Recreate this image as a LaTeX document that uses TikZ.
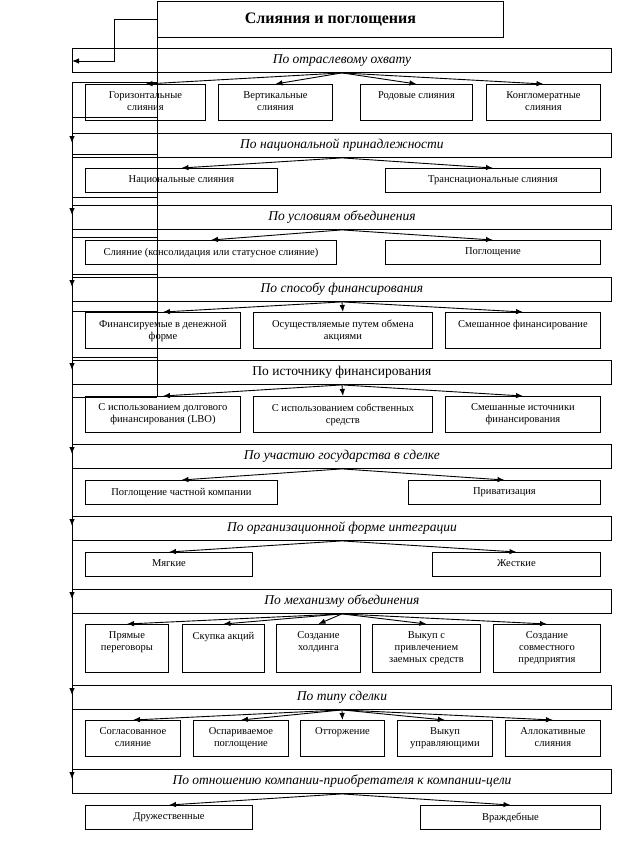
\documentclass[tikz,border=0pt]{standalone}
\usepackage{fontspec}
\setmainfont{Liberation Serif}
\usetikzlibrary{arrows.meta}

\tikzset{
  box/.style={draw, rectangle, inner sep=0pt, anchor=north west},
  cat/.style={box, minimum width=539pt, minimum height=24pt, font=\fontsize{13.5}{15}\selectfont\itshape},
  sub/.style={box, minimum height=#1},
  txt/.style={anchor=north, align=center, inner sep=0pt, yshift=-7.5pt, font=\fontsize{10.5}{12}\selectfont},
  arr/.style={-{Latex[length=7pt,width=5.5pt]}},
}

\begin{document}
\begin{tikzpicture}[x=1pt, y=-1pt, line width=0.9pt]
  \useasboundingbox (0,0) rectangle (637,855);

  % заголовок
  \node[box, minimum width=346pt, minimum height=36pt, font=\fontsize{16}{18}\selectfont\bfseries] (title) at (157,1) {Слияния и поглощения};

  % признаки классификации
  \node[cat] (c1) at (72,48) {По отраслевому охвату};
  \node[cat] (c2) at (72,133) {По национальной принадлежности};
  \node[cat] (c3) at (72,205) {По условиям объединения};
  \node[cat] (c4) at (72,277) {По способу финансирования};
  \node[cat, font=\fontsize{13.5}{15}\selectfont] (c5) at (72,360) {По источнику финансирования};
  \node[cat] (c6) at (72,444) {По участию государства в сделке};
  \node[cat] (c7) at (72,516) {По организационной форме интеграции};
  \node[cat] (c8) at (72,589) {По механизму объединения};
  \node[cat] (c9) at (72,685) {По типу сделки};
  \node[cat] (c10) at (72,769) {По отношению компании-приобретателя к компании-цели};

  % виды
  \node[sub=36pt, minimum width=120pt, label={[txt]north:{Горизонтальные\\слияния}}] (s11) at (85,84) {};
  \node[sub=36pt, minimum width=114pt, label={[txt]north:{Вертикальные\\слияния}}] (s12) at (218,84) {};
  \node[sub=36pt, minimum width=112pt, label={[txt]north:{Родовые слияния}}] (s13) at (360,84) {};
  \node[sub=36pt, minimum width=114pt, label={[txt]north:{Конгломератные\\слияния}}] (s14) at (486,84) {};

  \node[sub=24pt, minimum width=192pt, label={[txt]north:{Национальные слияния}}] (s21) at (85,168) {};
  \node[sub=24pt, minimum width=215pt, label={[txt]north:{Транснациональные слияния}}] (s22) at (385,168) {};

  \node[sub=24pt, minimum width=251pt, label={[txt]north:{Слияние (консолидация или статусное слияние)}}] (s31) at (85,240) {};
  \node[sub=24pt, minimum width=215pt, label={[txt]north:{Поглощение}}] (s32) at (385,240) {};

  \node[sub=36pt, minimum width=155pt, label={[txt]north:{Финансируемые в денежной\\форме}}] (s41) at (85,312) {};
  \node[sub=36pt, minimum width=179pt, label={[txt]north:{Осуществляемые путем обмена\\акциями}}] (s42) at (253,312) {};
  \node[sub=36pt, minimum width=155pt, label={[txt]north:{Смешанное финансирование}}] (s43) at (445,312) {};

  \node[sub=36pt, minimum width=155pt, label={[txt]north:{С использованием долгового\\финансирования (LBO)}}] (s51) at (85,396) {};
  \node[sub=36pt, minimum width=179pt, label={[txt]north:{С использованием собственных\\средств}}] (s52) at (253,396) {};
  \node[sub=36pt, minimum width=155pt, label={[txt]north:{Смешанные источники\\финансирования}}] (s53) at (445,396) {};

  \node[sub=24pt, minimum width=192pt, label={[txt]north:{Поглощение частной компании}}] (s61) at (85,480) {};
  \node[sub=24pt, minimum width=192pt, label={[txt]north:{Приватизация}}] (s62) at (408,480) {};

  \node[sub=24pt, minimum width=167pt, label={[txt]north:{Мягкие}}] (s71) at (85,552) {};
  \node[sub=24pt, minimum width=168pt, label={[txt]north:{Жесткие}}] (s72) at (432,552) {};

  \node[sub=48pt, minimum width=83pt, label={[txt]north:{Прямые\\переговоры}}] (s81) at (85,624) {};
  \node[sub=48pt, minimum width=82pt, label={[txt]north:{Скупка акций}}] (s82) at (182,624) {};
  \node[sub=48pt, minimum width=84pt, label={[txt]north:{Создание\\холдинга}}] (s83) at (276,624) {};
  \node[sub=48pt, minimum width=108pt, label={[txt]north:{Выкуп с\\привлечением\\заемных средств}}] (s84) at (372,624) {};
  \node[sub=48pt, minimum width=107pt, label={[txt]north:{Создание\\совместного\\предприятия}}] (s85) at (493,624) {};

  \node[sub=36pt, minimum width=95pt, label={[txt]north:{Согласованное\\слияние}}] (s91) at (85,720) {};
  \node[sub=36pt, minimum width=95pt, label={[txt]north:{Оспариваемое\\поглощение}}] (s92) at (193,720) {};
  \node[sub=36pt, minimum width=84pt, label={[txt]north:{Отторжение}}] (s93) at (300,720) {};
  \node[sub=36pt, minimum width=95pt, label={[txt]north:{Выкуп\\управляющими}}] (s94) at (397,720) {};
  \node[sub=36pt, minimum width=95pt, label={[txt]north:{Аллокативные\\слияния}}] (s95) at (505,720) {};

  \node[sub=24pt, minimum width=167pt, label={[txt]north:{Дружественные}}] (s101) at (85,805) {};
  \node[sub=24pt, minimum width=180pt, label={[txt]north:{Враждебные}}] (s102) at (420,805) {};

  % стрелки к видам
  \foreach \c/\list in {c1/{s11,s12,s13,s14}, c2/{s21,s22}, c3/{s31,s32}, c4/{s41,s42,s43}, c5/{s51,s52,s53},
                        c6/{s61,s62}, c7/{s71,s72}, c8/{s81,s82,s83,s84,s85}, c9/{s91,s92,s93,s94,s95}, c10/{s101,s102}}
    \foreach \s in \list
      \draw[arr] (\c.south) -- (\s.north);

  % от заголовка к первому признаку
  \draw[arr] ([yshift=-18pt]title.north west) -- ++(-43,0) |- ([yshift=-13pt]c1.north west);

  % линия слева
  \coordinate (spine) at (72,82);
  \draw[arr] (spine) -- ([yshift=-10pt]c2.north west);
  \foreach \a/\b in {c2/c3, c3/c4, c4/c5, c5/c6, c6/c7, c7/c8, c8/c9, c9/c10}
    \draw[arr] (\a.south west) -- ([yshift=-10pt]\b.north west);

  % остатки рамок
  \draw (title.south west) -- (157,397);
  \foreach \y in {82,117,154,197,237,274,311,357,397}
    \draw (72,\y) -- (157,\y);
\end{tikzpicture}
\end{document}
